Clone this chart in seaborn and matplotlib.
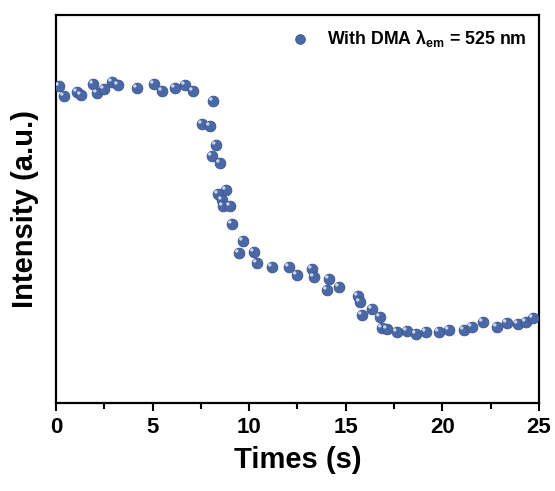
import numpy as np
import pandas as pd
import matplotlib
matplotlib.use("Agg")
import matplotlib.pyplot as plt
import matplotlib.transforms as mtransforms
import seaborn as sns

# Data
time_s = [0.16, 0.41, 1.09, 1.29, 1.92, 2.12, 2.48, 2.90, 3.21, 4.19,
          5.07, 5.49, 6.16, 6.68, 7.09, 8.13, 7.56, 7.97, 8.28, 8.07,
          8.49, 8.80, 8.39, 8.59, 8.64, 9.01, 9.11, 9.68, 9.47, 10.25,
          10.40, 11.18, 12.06, 12.47, 13.25, 13.35, 14.13, 14.03, 14.65, 15.63,
          15.73, 15.84, 16.36, 16.77, 16.87, 17.13, 17.65, 18.17, 18.63, 19.15,
          19.82, 20.34, 21.12, 21.53, 22.10, 22.83, 23.34, 23.91, 24.33, 24.69]
intensity = [317, 307, 311, 308, 319, 310, 314, 321, 318, 315,
             319, 312, 315, 318, 312, 302, 279, 277, 258, 247,
             240, 213, 209, 203, 197, 197, 179, 162, 150, 151,
             140, 136, 136, 128, 134, 126, 124, 113, 116, 107,
             101, 88, 94, 86, 75, 74, 71, 72, 69, 71,
             71, 73, 73, 76, 81, 76, 80, 79, 81, 85]
series_label = r"With DMA $\lambda_{\mathregular{em}}$ = 525 nm"
x_ticks = [0, 5, 10, 15, 20, 25]

df = pd.DataFrame({"Times (s)": time_s, "Intensity": intensity})

sns.set_style("white")
plt.rcParams["font.family"] = ["Liberation Sans", "DejaVu Sans"]
plt.rcParams["font.weight"] = "bold"
plt.rcParams["text.color"] = "black"
plt.rcParams["axes.labelcolor"] = "black"
plt.rcParams["xtick.color"] = "black"
plt.rcParams["ytick.color"] = "black"
plt.rcParams["mathtext.fontset"] = "custom"
plt.rcParams["mathtext.rm"] = "Liberation Sans:bold"
plt.rcParams["mathtext.it"] = "Liberation Sans:bold"
plt.rcParams["mathtext.default"] = "rm"

fig = plt.figure(figsize=(5.55, 4.91), dpi=100)
ax = fig.add_axes([0.101, 0.179, 0.870, 0.790])

sns.scatterplot(data=df, x="Times (s)", y="Intensity", ax=ax,
                s=60, color="#4a68a6", edgecolor="#3a5590", linewidth=0.6,
                label=series_label, zorder=3)
# small highlights to mimic the shaded spheres
hl = mtransforms.offset_copy(ax.transData, fig=fig, x=-1.6, y=1.6, units="points")
ax.scatter(time_s, intensity, s=6, color="#c9d6ee", edgecolor="none",
           transform=hl, zorder=4)

ax.set_xlim(0, 25)
ax.set_ylim(0, 388)
ax.set_xticks(x_ticks)
ax.set_xticks([2.5, 7.5, 12.5, 17.5, 22.5], minor=True)
ax.set_yticks([])
ax.tick_params(axis="x", which="major", direction="out", length=6, width=1.5,
               labelsize=16, pad=4, bottom=True, colors="black")
ax.tick_params(axis="x", which="minor", direction="out", length=4, width=1.5,
               bottom=True, colors="black")
for lab in ax.get_xticklabels():
    lab.set_fontweight("bold")
    lab.set_color("black")
for sp in ax.spines.values():
    sp.set_linewidth(1.6)
    sp.set_color("black")

ax.set_xlabel("Times (s)", fontsize=21, fontweight="bold", labelpad=6, color="black")
ax.set_ylabel("Intensity (a.u.)", fontsize=21, fontweight="bold", labelpad=12, color="black")

leg = ax.legend(loc="upper right", frameon=False, fontsize=12.8,
                handletextpad=0.5, borderaxespad=0.3, markerscale=0.9)
for t in leg.get_texts():
    t.set_fontweight("bold")
    t.set_color("black")

fig.savefig("out.png", dpi=100)
